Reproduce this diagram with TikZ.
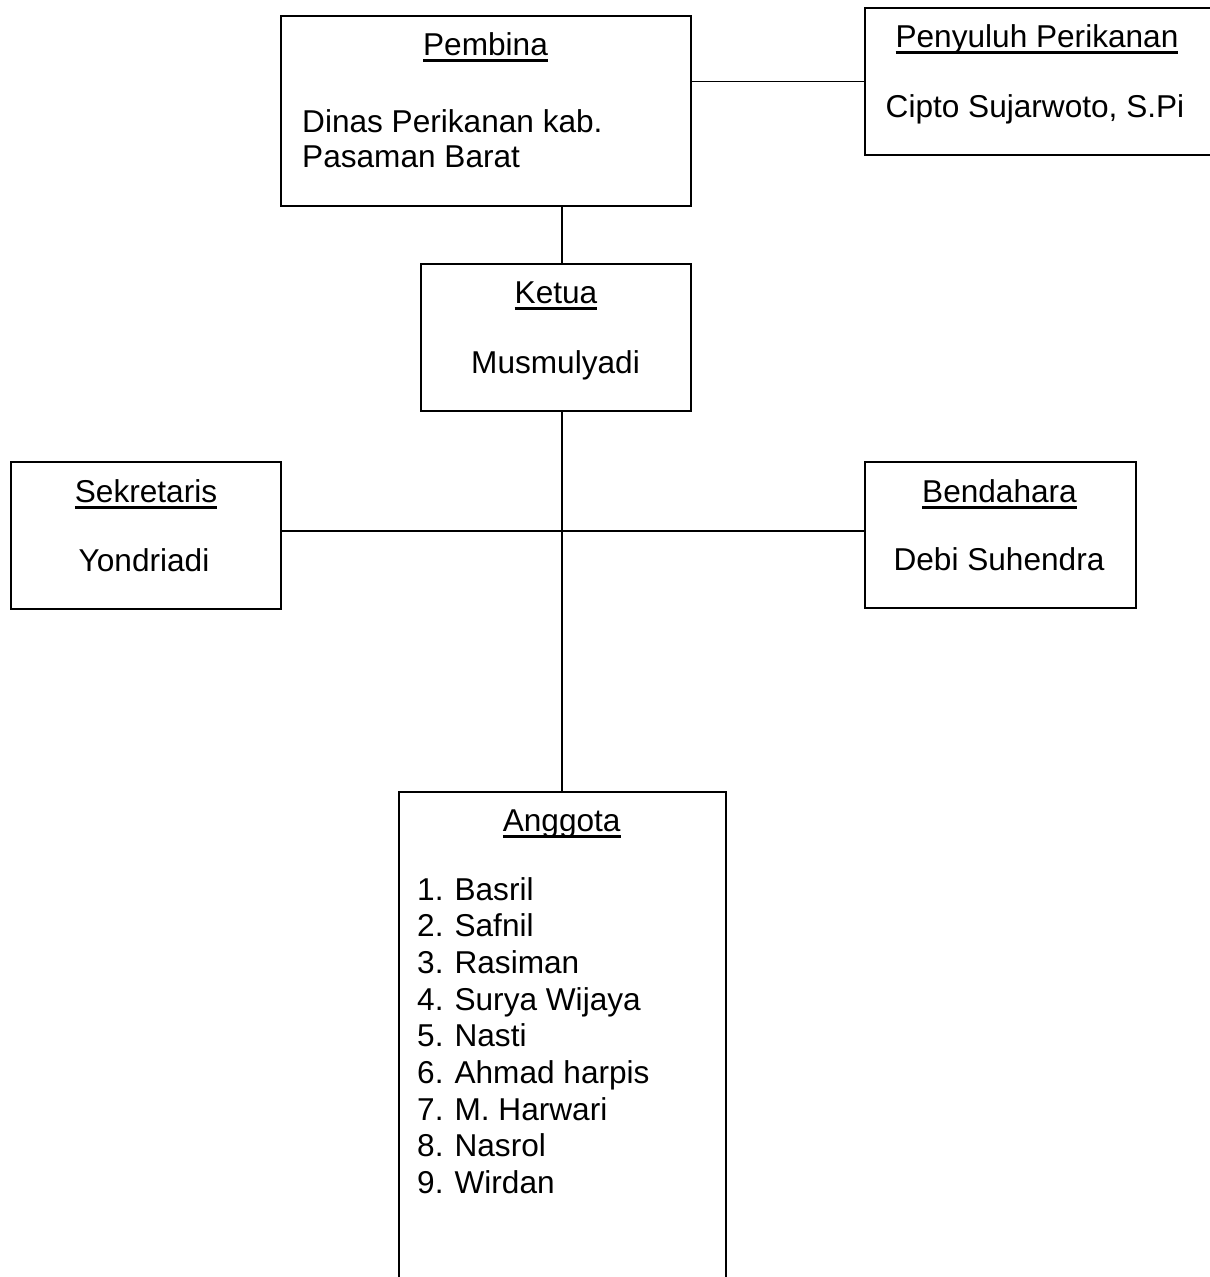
\documentclass[tikz,border=0pt]{standalone}
\usepackage{fontspec}
\setmainfont{Liberation Sans}
\newcommand\uln[1]{\setbox0\hbox{#1}\rlap{\rule[-6.5pt]{\wd0}{2.8pt}}\box0}
\begin{document}
\begin{tikzpicture}[x=1pt,y=-1pt,
  box/.style={draw=black, line width=2.2pt, rectangle, inner sep=0pt, anchor=north west},
  lbl/.style={inner sep=0pt, font=\fontsize{31.6}{36.6}\selectfont, text=black},
  conn/.style={draw=black, line width=1.6pt}]
\useasboundingbox (0,0) rectangle (1210,1277);
\clip (0,0) rectangle (1210,1277);
\fill[white] (0,0) rectangle (1210,1277);
% boxes
\node[box, minimum width=410pt, minimum height=190pt] (pembina) at (280,15) {};
\node[box, minimum width=400pt, minimum height=147pt] (penyuluh) at (864,7) {};
\node[box, minimum width=270pt, minimum height=147pt] (ketua) at (420,263) {};
\node[box, minimum width=270pt, minimum height=147pt] (sekretaris) at (10,461) {};
\node[box, minimum width=271pt, minimum height=146pt] (bendahara) at (864,461) {};
\node[box, minimum width=327pt, minimum height=600pt] (anggota) at (398,791) {};
% texts
\node[lbl, anchor=base] (pembinaT) at (485.5,55) {\uln{Pembina}};
\node[lbl, anchor=base west] (pembinaA) at (302,132) {Dinas Perikanan kab.};
\node[lbl, anchor=base west] (pembinaB) at (302,167.5) {Pasaman Barat};
\node[lbl, anchor=base] (penyuluhT) at (1037,47) {\uln{Penyuluh Perikanan}};
\node[lbl, anchor=base] (penyuluhA) at (1035,117) {Cipto Sujarwoto, S.Pi};
\node[lbl, anchor=base] (ketuaT) at (556,303) {\uln{Ketua}};
\node[lbl, anchor=base] (ketuaA) at (555.5,373) {Musmulyadi};
\node[lbl, anchor=base] (sekretarisT) at (146,502) {\uln{Sekretaris}};
\node[lbl, anchor=base] (sekretarisA) at (144,571) {Yondriadi};
\node[lbl, anchor=base] (bendaharaT) at (999.5,502) {\uln{Bendahara}};
\node[lbl, anchor=base] (bendaharaA) at (999,570.5) {Debi Suhendra};
\node[lbl, anchor=base] (anggotaT) at (561.7,831.7) {\uln{Anggota}};
\foreach \n/\name [count=\i from 0] in {1/Basril,2/Safnil,3/Rasiman,4/Surya Wijaya,5/Nasti,6/Ahmad harpis,7/M. Harwari,8/Nasrol,9/Wirdan}{
  \node[lbl, anchor=base west] (m\n) at (417,{900+36.67*\i}) {\makebox[37.4pt][l]{\n.}\name};
}
% connectors
\coordinate (trunk) at (562,531);
\draw[conn] (penyuluh.west) -- (penyuluh.west -| pembina.east);
\draw[conn] (trunk |- pembina.south) -- (trunk |- ketua.north);
\draw[conn] (trunk |- ketua.south) -- (trunk |- anggota.north);
\draw[conn] (trunk -| sekretaris.east) -- (trunk -| bendahara.west);
\end{tikzpicture}
\end{document}
